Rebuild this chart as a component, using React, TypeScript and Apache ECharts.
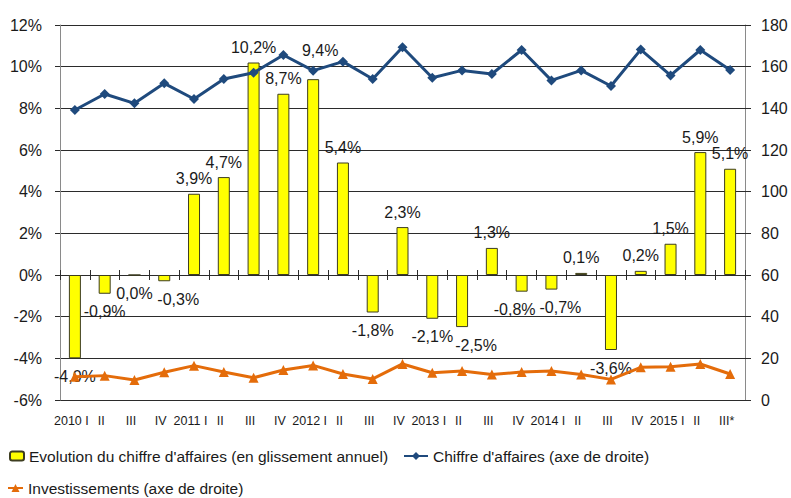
import React, { useEffect, useRef } from "react";
import * as echarts from "echarts";

const categories = [
  "2010 I", "II", "III", "IV",
  "2011 I", "II", "III", "IV",
  "2012 I", "II", "III", "IV",
  "2013 I", "II", "III", "IV",
  "2014 I", "II", "III", "IV",
  "2015 I", "II", "III*",
];

const evolution = [
  -4.0, -0.9, 0.0, -0.3, 3.9, 4.7, 10.2, 8.7, 9.4, 5.4, -1.8, 2.3,
  -2.1, -2.5, 1.3, -0.8, -0.7, 0.1, -3.6, 0.2, 1.5, 5.9, 5.1,
];

const chiffreAffaires = [
  139.2, 146.9, 142.4, 152.0, 144.5, 154.1, 157.1, 165.6, 158.1, 162.4, 154.1, 169.3,
  154.7, 158.2, 156.5, 168.0, 153.4, 158.2, 150.7, 168.2, 155.8, 168.0, 158.4,
];

const investissements = [
  11.2, 11.7, 9.6, 13.3, 16.5, 13.4, 10.7, 14.4, 16.6, 12.5, 10.1, 17.3,
  13.1, 13.9, 12.2, 13.4, 13.9, 12.2, 9.9, 15.7, 16.0, 17.3, 12.5,
];

const SERIES_BAR = "Evolution du chiffre d'affaires (en glissement annuel)";
const SERIES_CA = "Chiffre d'affaires (axe de droite)";
const SERIES_INV = "Investissements (axe de droite)";

// manual label nudges (as in the original chart)
const labelNudges: Record<number, [number, number]> = {
  3: [14, 0],
  8: [7, -14],
  13: [14, 0],
  15: [-7, 0],
  16: [9, 0],
};

const FONT = "'Liberation Sans', Arial, sans-serif";
const TXT = "#1a1a1a";

export default function App() {
  const ref = useRef<HTMLDivElement>(null);

  useEffect(() => {
    if (!ref.current) return;
    const chart = echarts.init(ref.current, undefined, { renderer: "svg" });

    const fmt = (v: number) => v.toFixed(1).replace(".", ",") + "%";

    const barData = evolution.map((v, i) => {
      const neg = v <= 0;
      const nudge = labelNudges[i] || [0, 0];
      return {
        value: v,
        label: {
          position: neg ? "bottom" : "top",
          distance: neg ? 10 : 7,
          offset: nudge,
        },
      };
    });

    const xCommon = {
      type: "category" as const,
      data: categories,
      gridIndex: 0,
      position: "bottom" as const,
      boundaryGap: true,
    };

    const legendText = { fontSize: 15.5, color: TXT, fontFamily: FONT };

    const option: any = {
      animation: false,
      backgroundColor: "#ffffff",
      textStyle: { fontFamily: FONT },
      grid: { left: 60, right: 46, top: 25, bottom: 98, containLabel: false },
      legend: [
        {
          data: [SERIES_BAR],
          left: 4,
          top: 443,
          itemWidth: 14,
          itemHeight: 9,
          textStyle: legendText,
        },
        {
          data: [SERIES_CA],
          left: 398,
          top: 443,
          itemWidth: 24,
          itemHeight: 10,
          textStyle: legendText,
        },
        {
          data: [SERIES_INV],
          left: 2,
          top: 475,
          itemWidth: 15,
          itemHeight: 10,
          textStyle: legendText,
        },
      ],
      xAxis: [
        {
          ...xCommon,
          axisLine: { show: false, onZero: false },
          axisTick: { show: false },
          splitLine: { show: false },
          axisLabel: {
            interval: 0,
            fontSize: 12.5,
            fontFamily: FONT,
            color: TXT,
            margin: 14,
            padding: [0, 7, 0, 0],
          },
        },
        {
          ...xCommon,
          axisLine: { show: true, onZero: true, onZeroAxisIndex: 0, lineStyle: { color: "#2b2b2b", width: 1 } },
          axisTick: { show: true, inside: false, length: 5, interval: 0, lineStyle: { color: "#2b2b2b" } },
          axisLabel: { show: false },
          splitLine: { show: false },
        },
        {
          ...xCommon,
          axisLine: { show: false, onZero: true, onZeroAxisIndex: 0 },
          axisTick: { show: true, inside: true, length: 5, interval: 0, lineStyle: { color: "#2b2b2b" } },
          axisLabel: { show: false },
          splitLine: { show: false },
        },
      ],
      yAxis: [
        {
          type: "value",
          position: "left",
          min: -6,
          max: 12,
          interval: 2,
          axisLine: { show: true, lineStyle: { color: "#8a8a8a" } },
          axisTick: { show: true, length: 5, lineStyle: { color: "#2b2b2b" } },
          splitLine: { show: true, lineStyle: { color: "#2b2b2b", width: 1 } },
          axisLabel: { formatter: "{value}%", fontSize: 16, color: TXT, margin: 18 },
        },
        {
          type: "value",
          position: "right",
          min: 0,
          max: 180,
          interval: 20,
          axisLine: { show: true, lineStyle: { color: "#8a8a8a" } },
          axisTick: { show: true, length: 6, lineStyle: { color: "#2b2b2b" } },
          splitLine: { show: false },
          axisLabel: { fontSize: 16, color: TXT, margin: 16 },
        },
      ],
      series: [
        {
          name: SERIES_BAR,
          type: "bar",
          xAxisIndex: 0,
          yAxisIndex: 0,
          barWidth: 12,
          data: barData,
          itemStyle: { color: "#ffff00", borderColor: "#3d3d20", borderWidth: 1 },
          label: {
            show: true,
            formatter: (p: any) => fmt(p.value),
            fontSize: 16,
            color: TXT,
            fontFamily: FONT,
          },
          z: 2,
        },
        {
          name: SERIES_CA,
          type: "line",
          xAxisIndex: 0,
          yAxisIndex: 1,
          data: chiffreAffaires,
          symbol: "diamond",
          symbolSize: 10,
          lineStyle: { color: "#1f4a7d", width: 3 },
          itemStyle: { color: "#1f4a7d" },
          z: 4,
        },
        {
          name: SERIES_INV,
          type: "line",
          xAxisIndex: 0,
          yAxisIndex: 1,
          data: investissements,
          symbol: "triangle",
          symbolSize: 10,
          lineStyle: { color: "#e46c0a", width: 3 },
          itemStyle: { color: "#e46c0a" },
          z: 3,
        },
      ],
    };

    chart.setOption(option);
    return () => chart.dispose();
  }, []);

  return (
    <div
      ref={ref}
      style={{ position: "absolute", left: 0, top: 0, width: 791, height: 498, background: "#fff" }}
    />
  );
}
